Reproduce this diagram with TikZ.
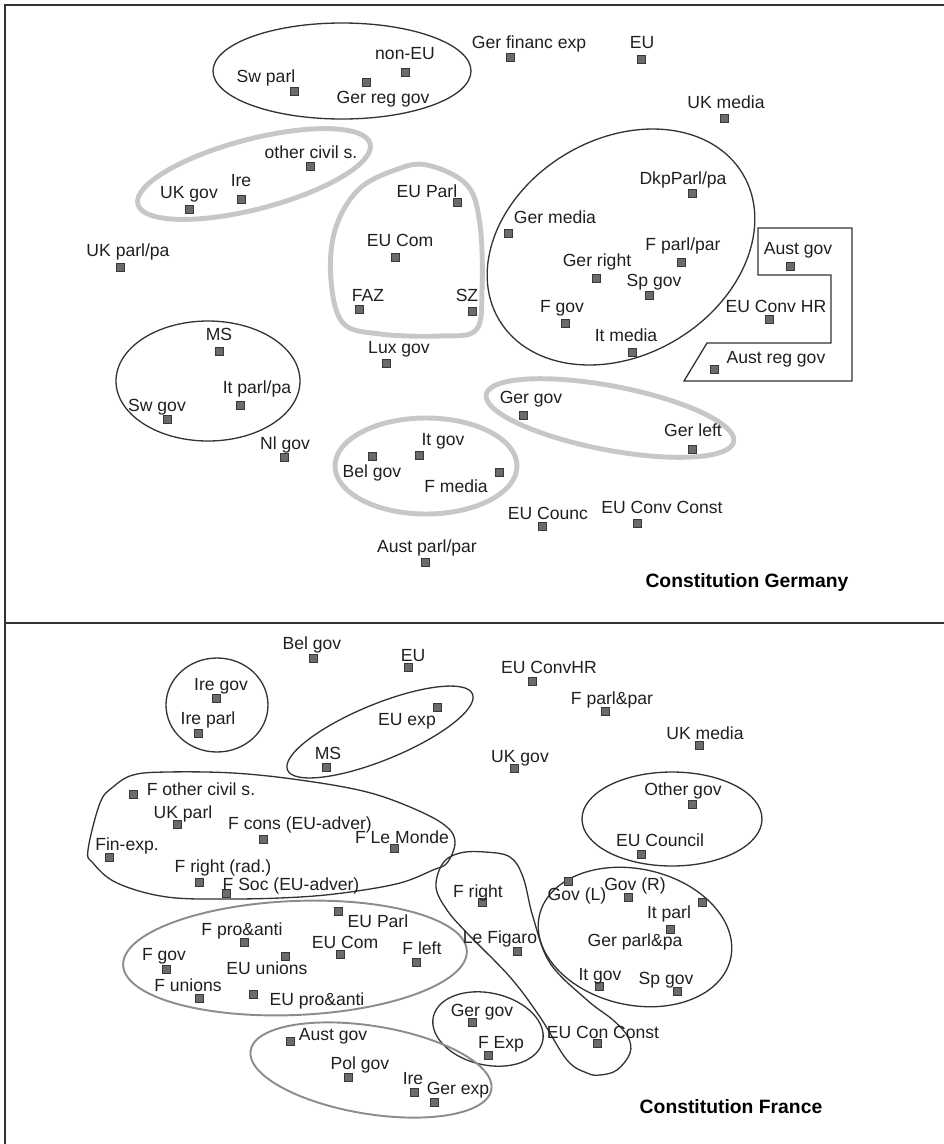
\documentclass[tikz,border=0pt]{standalone}
\usepackage{xcolor}
\usepackage{fontspec}
\setmainfont{Liberation Sans}
\usepackage{tikz}

\begin{document}
\begin{tikzpicture}[
        x=0.02cm, y=-0.02cm,
        actor/.style={rectangle, draw=black!78, fill=black!58, line width=0.4pt, inner sep=0pt, minimum size=0.16cm},
        tag/.style={font=\fontsize{10}{12}\selectfont, text=black!88, inner sep=0pt, text height=7.2pt, text depth=0pt},
        heading/.style={font=\fontsize{11}{13}\selectfont\bfseries, inner sep=0pt, text height=7.9pt, text depth=0pt},
        frame/.style={draw=black!80, line width=1.1pt},
        cluster/.style={draw=black!80, line width=0.75pt},
        hilite/.style={draw=black!22, line width=2.8pt},
        soft/.style={draw=black!45, line width=1.1pt}
    ]
        \useasboundingbox (0,0) rectangle (944,1144);
        \draw[frame] (5,1144) -- (5,5) -- (944,5);
        \draw[frame] (5,623) -- (944,623);

        % Constitution Germany
        \draw[cluster] (342,71) ellipse [x radius=129, y radius=48];
        \draw[hilite] (254,174) ellipse [x radius=120, y radius=35, rotate=14.6];
        \draw[hilite] plot[smooth cycle, tension=0.6] coordinates {(427,165) (467,185) (480,225) (482,290) (476,330) (440,336) (380,334) (343,323) (331,280) (335,230) (358,190) (395,170)};
        \draw[cluster] (621,247) ellipse [x radius=142, y radius=108, rotate=31];
        \draw[cluster] (758,228) -- (852,228) -- (852,381) -- (684,381) -- (707,343) -- (831,343) -- (831,275) -- (758,275) -- cycle;
        \draw[cluster] (208,381) ellipse [x radius=92, y radius=60];
        \draw[hilite] (426,466) ellipse [x radius=91, y radius=48];
        \draw[hilite] (610,418) ellipse [x radius=126, y radius=32, rotate=-10.8];

        \node[actor] (g-swparl) at (294,91) {};      \node[tag] (g-swparl-txt) at (266,76) {Sw parl};
        \node[actor] (g-noneu) at (405,72) {};       \node[tag] (g-noneu-txt) at (405,53) {non-EU};
        \node[actor] (g-gerreg) at (366,82) {};      \node[tag] (g-gerreg-txt) at (383,97) {Ger reg gov};
        \node[actor] (g-finexp) at (510,57) {};      \node[tag] (g-finexp-txt) at (529,42) {Ger financ exp};
        \node[actor] (g-eu) at (641,59) {};          \node[tag] (g-eu-txt) at (642,42) {EU};
        \node[actor] (g-ukmedia) at (724,118) {};    \node[tag] (g-ukmedia-txt) at (726,102) {UK media};
        \node[actor] (g-othcivil) at (310,166) {};   \node[tag] (g-othcivil-txt) at (311,152) {other civil s.};
        \node[actor] (g-ire) at (241,199) {};        \node[tag] (g-ire-txt) at (241,180) {Ire};
        \node[actor] (g-ukgov) at (189,209) {};      \node[tag] (g-ukgov-txt) at (189,192) {UK gov};
        \node[actor] (g-ukparl) at (120,267) {};     \node[tag] (g-ukparl-txt) at (128,250) {UK parl/pa};
        \node[actor] (g-euparl) at (457,202) {};     \node[tag] (g-euparl-txt) at (427,191) {EU Parl};
        \node[actor] (g-eucom) at (395,257) {};      \node[tag] (g-eucom-txt) at (400,240) {EU Com};
        \node[actor] (g-faz) at (359,309) {};        \node[tag] (g-faz-txt) at (368,295) {FAZ};
        \node[actor] (g-sz) at (472,311) {};         \node[tag] (g-sz-txt) at (467,295) {SZ};
        \node[actor] (g-dkp) at (692,193) {};        \node[tag] (g-dkp-txt) at (683,178) {DkpParl/pa};
        \node[actor] (g-germedia) at (508,233) {};   \node[tag] (g-germedia-txt) at (555,217) {Ger media};
        \node[actor] (g-fparl) at (681,262) {};      \node[tag] (g-fparl-txt) at (683,244) {F parl/par};
        \node[actor] (g-gerright) at (596,278) {};   \node[tag] (g-gerright-txt) at (597,260) {Ger right};
        \node[actor] (g-spgov) at (649,295) {};      \node[tag] (g-spgov-txt) at (654,280) {Sp gov};
        \node[actor] (g-fgov) at (565,323) {};       \node[tag] (g-fgov-txt) at (562,306) {F gov};
        \node[actor] (g-itmedia) at (632,352) {};    \node[tag] (g-itmedia-txt) at (626,335) {It media};
        \node[actor] (g-austgov) at (790,266) {};    \node[tag] (g-austgov-txt) at (798,248) {Aust gov};
        \node[actor] (g-euconvhr) at (769,319) {};   \node[tag] (g-euconvhr-txt) at (776,306) {EU Conv HR};
        \node[actor] (g-austreg) at (714,369) {};    \node[tag] (g-austreg-txt) at (776,357) {Aust reg gov};
        \node[actor] (g-luxgov) at (386,363) {};     \node[tag] (g-luxgov-txt) at (399,347) {Lux gov};
        \node[actor] (g-ms) at (219,351) {};         \node[tag] (g-ms-txt) at (219,334) {MS};
        \node[actor] (g-itparl) at (240,405) {};     \node[tag] (g-itparl-txt) at (257,387) {It parl/pa};
        \node[actor] (g-swgov) at (167,419) {};      \node[tag] (g-swgov-txt) at (157,405) {Sw gov};
        \node[actor] (g-nlgov) at (284,457) {};      \node[tag] (g-nlgov-txt) at (285,443) {Nl gov};
        \node[actor] (g-itgov) at (419,455) {};      \node[tag] (g-itgov-txt) at (443,439) {It gov};
        \node[actor] (g-belgov) at (372,456) {};     \node[tag] (g-belgov-txt) at (372,471) {Bel gov};
        \node[actor] (g-fmedia) at (499,472) {};     \node[tag] (g-fmedia-txt) at (456,486) {F media};
        \node[actor] (g-austparl) at (425,562) {};   \node[tag] (g-austparl-txt) at (427,546) {Aust parl/par};
        \node[actor] (g-gergov) at (523,415) {};     \node[tag] (g-gergov-txt) at (531,397) {Ger gov};
        \node[actor] (g-gerleft) at (692,449) {};    \node[tag] (g-gerleft-txt) at (693,430) {Ger left};
        \node[actor] (g-eucounc) at (542,526) {};    \node[tag] (g-eucounc-txt) at (548,513) {EU Counc};
        \node[actor] (g-euconst) at (637,523) {};    \node[tag] (g-euconst-txt) at (662,507) {EU Conv Const};
        \node[heading] (germany) at (747,581) {Constitution Germany};

        % Constitution France
        \draw[cluster] (217,705) ellipse [x radius=51, y radius=47];
        \draw[cluster] (380,732) ellipse [x radius=100, y radius=28, rotate=22.3];
        \draw[cluster] (672,819) ellipse [x radius=90, y radius=47];
        \draw[cluster] plot[smooth cycle, tension=0.6] coordinates {(88,850) (100,803) (113,787) (133,775) (167,772) (233,773) (300,780) (367,792) (417,810) (447,827) (455,843) (447,863) (433,870) (400,883) (350,892) (300,897) (233,899) (167,897) (117,883) (93,863)};
        \draw[cluster] plot[smooth cycle, tension=0.6] coordinates {(485,852) (510,857) (523,877) (533,917) (550,963) (587,1000) (613,1020) (628,1037) (630,1053) (617,1070) (600,1075) (587,1073) (567,1060) (540,1017) (510,977) (467,933) (447,910) (436,887) (443,863) (460,853)};
        \draw[cluster] (635,937) ellipse [x radius=98, y radius=68, rotate=-12.7];
        \draw[cluster] (488,1029) ellipse [x radius=56, y radius=36, rotate=-12.7];
        \draw[soft] (295,958) ellipse [x radius=172, y radius=57, rotate=2.4];
        \draw[soft] (371,1070) ellipse [x radius=122, y radius=44, rotate=-9.2];

        \node[actor] (f-belgov) at (313,658) {};     \node[tag] (f-belgov-txt) at (312,643) {Bel gov};
        \node[actor] (f-eu) at (408,667) {};         \node[tag] (f-eu-txt) at (413,655) {EU};
        \node[actor] (f-iregov) at (216,698) {};     \node[tag] (f-iregov-txt) at (221,684) {Ire gov};
        \node[actor] (f-ireparl) at (198,733) {};    \node[tag] (f-ireparl-txt) at (208,718) {Ire parl};
        \node[actor] (f-euexp) at (437,707) {};      \node[tag] (f-euexp-txt) at (407,719) {EU exp};
        \node[actor] (f-ms) at (326,767) {};         \node[tag] (f-ms-txt) at (328,753) {MS};
        \node[actor] (f-euconvhr) at (532,681) {};   \node[tag] (f-euconvhr-txt) at (549,667) {EU ConvHR};
        \node[actor] (f-fparl) at (605,711) {};      \node[tag] (f-fparl-txt) at (612,698) {F parl\&par};
        \node[actor] (f-ukmedia) at (699,745) {};    \node[tag] (f-ukmedia-txt) at (705,733) {UK media};
        \node[actor] (f-ukgov) at (514,768) {};      \node[tag] (f-ukgov-txt) at (520,756) {UK gov};
        \node[actor] (f-othergov) at (692,804) {};   \node[tag] (f-othergov-txt) at (683,789) {Other gov};
        \node[actor] (f-eucouncil) at (641,854) {};  \node[tag] (f-eucouncil-txt) at (660,840) {EU Council};
        \node[actor] (f-othcivil) at (133,794) {};   \node[tag] (f-othcivil-txt) at (201,789) {F other civil s.};
        \node[actor] (f-ukparl) at (177,824) {};     \node[tag] (f-ukparl-txt) at (183,812) {UK parl};
        \node[actor] (f-cons) at (263,839) {};       \node[tag] (f-cons-txt) at (300,823) {F cons (EU-adver)};
        \node[actor] (f-lemonde) at (394,848) {};    \node[tag] (f-lemonde-txt) at (402,837) {F Le Monde};
        \node[actor] (f-finexp) at (109,857) {};     \node[tag] (f-finexp-txt) at (127,844) {Fin-exp.};
        \node[actor] (f-radright) at (199,882) {};   \node[tag] (f-radright-txt) at (223,866) {F right (rad.)};
        \node[actor] (f-soc) at (226,893) {};        \node[tag] (f-soc-txt) at (291,884) {F Soc (EU-adver)};
        \node[actor] (f-right) at (482,902) {};      \node[tag] (f-right-txt) at (478,891) {F right};
        \node[actor] (f-figaro) at (517,951) {};     \node[tag] (f-figaro-txt) at (500,937) {Le Figaro};
        \node[actor] (f-euconst) at (597,1043) {};   \node[tag] (f-euconst-txt) at (603,1032) {EU Con Const};
        \node[actor] (f-govl) at (568,881) {};       \node[tag] (f-govl-txt) at (577,894) {Gov (L)};
        \node[actor] (f-govr) at (628,897) {};       \node[tag] (f-govr-txt) at (635,884) {Gov (R)};
        \node[actor] (f-itparl) at (702,902) {};     \node[tag] (f-itparl-txt) at (669,912) {It parl};
        \node[actor] (f-gerparl) at (670,929) {};    \node[tag] (f-gerparl-txt) at (635,940) {Ger parl\&pa};
        \node[actor] (f-itgov) at (599,986) {};      \node[tag] (f-itgov-txt) at (600,974) {It gov};
        \node[actor] (f-spgov) at (677,991) {};      \node[tag] (f-spgov-txt) at (666,978) {Sp gov};
        \node[actor] (f-gergov) at (472,1022) {};    \node[tag] (f-gergov-txt) at (482,1010) {Ger gov};
        \node[actor] (f-fexp) at (488,1055) {};      \node[tag] (f-fexp-txt) at (501,1042) {F Exp};
        \node[actor] (f-ire) at (414,1092) {};       \node[tag] (f-ire-txt) at (413,1078) {Ire};
        \node[actor] (f-gerexp) at (434,1102) {};    \node[tag] (f-gerexp-txt) at (458,1088) {Ger exp};
        \node[actor] (f-proanti) at (244,942) {};    \node[tag] (f-proanti-txt) at (242,929) {F pro\&anti};
        \node[actor] (f-euparl) at (338,911) {};     \node[tag] (f-euparl-txt) at (378,921) {EU Parl};
        \node[actor] (f-eucom) at (340,954) {};      \node[tag] (f-eucom-txt) at (345,942) {EU Com};
        \node[actor] (f-fleft) at (416,962) {};      \node[tag] (f-fleft-txt) at (422,948) {F left};
        \node[actor] (f-fgov) at (166,969) {};       \node[tag] (f-fgov-txt) at (164,954) {F gov};
        \node[actor] (f-euunions) at (285,956) {};   \node[tag] (f-euunions-txt) at (267,968) {EU unions};
        \node[actor] (f-funions) at (199,998) {};    \node[tag] (f-funions-txt) at (188,985) {F unions};
        \node[actor] (f-euproanti) at (253,994) {};  \node[tag] (f-euproanti-txt) at (317,999) {EU pro\&anti};
        \node[actor] (f-austgov) at (290,1041) {};   \node[tag] (f-austgov-txt) at (333,1034) {Aust gov};
        \node[actor] (f-polgov) at (348,1077) {};    \node[tag] (f-polgov-txt) at (360,1063) {Pol gov};
        \node[heading] (france) at (731,1107) {Constitution France};
    \end{tikzpicture}
\end{document}
